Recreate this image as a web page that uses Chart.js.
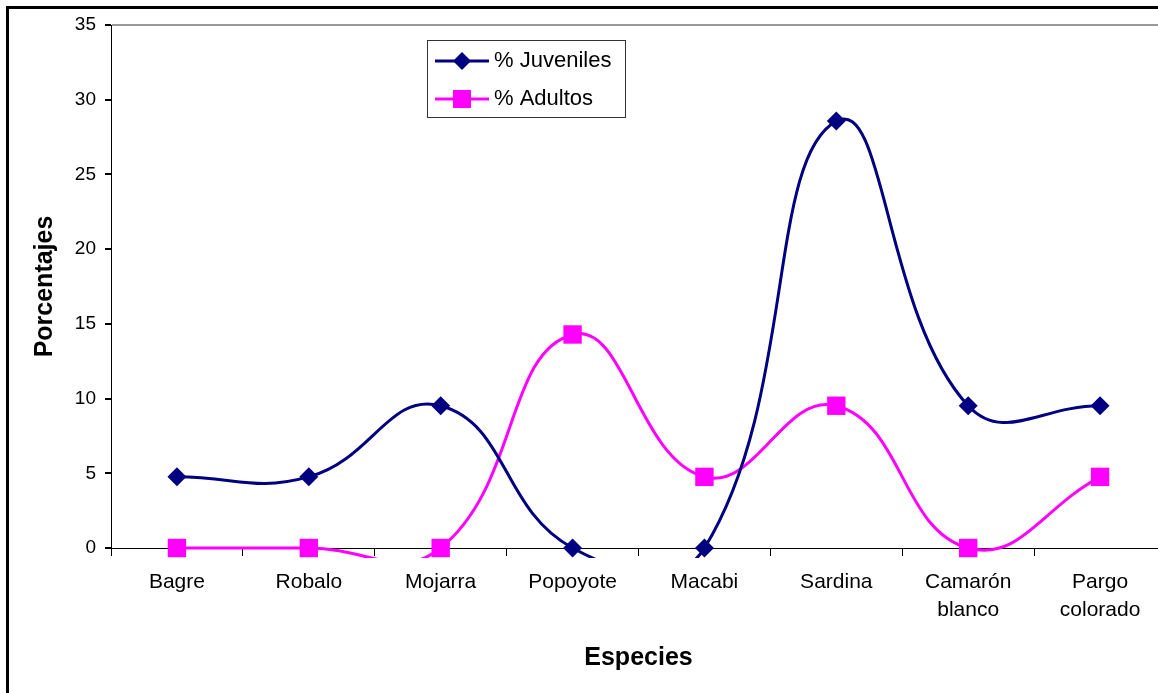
<!DOCTYPE html>
<html>
<head>
<meta charset="utf-8">
<title>Juveniles y adultos por especie</title>
<script src="https://cdn.jsdelivr.net/npm/chart.js@4/dist/chart.umd.min.js"></script>
<style>
  html, body { margin: 0; padding: 0; background: #fff; overflow: hidden; }
  canvas { display: block; }
</style>
</head>
<body>
<canvas id="chart" width="1166" height="693"></canvas>
<script>
const especies = ['Bagre', 'Robalo', 'Mojarra', 'Popoyote', 'Macabi', 'Sardina', ['Camarón', 'blanco'], ['Pargo', 'colorado']];
const juveniles = [4.76, 4.76, 9.52, 0, 0, 28.57, 9.52, 9.52];
const adultos = [0, 0, 0, 14.29, 4.76, 9.52, 0, 4.76];
const yTicks = [0, 5, 10, 15, 20, 25, 30, 35];

const FONT = "'Liberation Sans', Arial, sans-serif";

// outer frame of the chart, only its left and top edges fall inside the page
const framePlugin = {
  id: 'frame',
  beforeDraw(chart) {
    const ctx = chart.ctx;
    ctx.save();
    ctx.fillStyle = '#fff';
    ctx.fillRect(0, 0, chart.width, chart.height);
    ctx.strokeStyle = '#000';
    ctx.lineWidth = 3;
    ctx.strokeRect(7.5, 7.5, chart.width + 40, chart.height + 40);
    ctx.restore();
  }
};

// boxed legend sitting inside the plot area
const boxLegend = {
  id: 'boxLegend',
  afterDraw(chart) {
    const ctx = chart.ctx;
    const x = 427, y = 40, w = 198, h = 77;
    ctx.save();
    ctx.fillStyle = '#fff';
    ctx.fillRect(x, y, w, h);
    ctx.strokeStyle = '#333';
    ctx.lineWidth = 1;
    ctx.strokeRect(x + 0.5, y + 0.5, w, h);
    chart.data.datasets.forEach((ds, i) => {
      const cy = 61 + i * 38;
      ctx.strokeStyle = ds.borderColor;
      ctx.lineWidth = 3;
      ctx.beginPath();
      ctx.moveTo(435, cy);
      ctx.lineTo(489, cy);
      ctx.stroke();
      ctx.fillStyle = ds.backgroundColor;
      ctx.beginPath();
      if (ds.pointStyle === 'rectRot') {
        ctx.moveTo(462, cy - 9);
        ctx.lineTo(471, cy);
        ctx.lineTo(462, cy + 9);
        ctx.lineTo(453, cy);
        ctx.closePath();
      } else {
        ctx.rect(453, cy - 9, 18, 18);
      }
      ctx.fill();
      ctx.fillStyle = '#000';
      ctx.font = '22px ' + FONT;
      ctx.textBaseline = 'middle';
      ctx.textAlign = 'left';
      ctx.fillText(ds.label, 494, cy);
    });
    ctx.restore();
  }
};

new Chart(document.getElementById('chart'), {
  type: 'line',
  data: {
    labels: especies,
    datasets: [
      {
        label: '% Juveniles',
        data: juveniles,
        borderColor: '#000080',
        backgroundColor: '#000080',
        borderWidth: 3,
        pointStyle: 'rectRot',
        pointRadius: 9.5,
        pointBorderWidth: 0,
        tension: 0.45,
        clip: { left: 10, top: 10, right: 10, bottom: 10 }
      },
      {
        label: '% Adultos',
        data: adultos,
        borderColor: '#FF00FF',
        backgroundColor: '#FF00FF',
        borderWidth: 3,
        pointStyle: 'rect',
        pointRadius: 13,
        pointBorderWidth: 0,
        tension: 0.45,
        clip: { left: 10, top: 10, right: 10, bottom: 10 }
      }
    ]
  },
  options: {
    responsive: false,
    animation: false,
    layout: { autoPadding: false, padding: { top: 25, left: 0, right: 0, bottom: 0 } },
    elements: { line: { capBezierPoints: false } },
    plugins: {
      legend: { display: false },
      tooltip: { enabled: false }
    },
    scales: {
      x: {
        type: 'category',
        offset: true,
        afterFit(scale) {
          scale.height = 145;
          scale.paddingLeft = 0;
          scale.paddingRight = 0;
        },
        grid: {
          offset: true,
          drawOnChartArea: false,
          tickColor: '#000',
          tickLength: 8
        },
        border: { color: '#000', width: 1 },
        ticks: {
          color: '#000',
          padding: 12,
          maxRotation: 0,
          autoSkip: false,
          font: { family: FONT, size: 21, lineHeight: 1.35 }
        },
        title: {
          display: true,
          text: 'Especies',
          color: '#000',
          font: { family: FONT, size: 25, weight: 'bold' },
          padding: { top: 0, bottom: 20 }
        }
      },
      y: {
        min: 0,
        max: 35,
        afterFit(scale) {
          scale.width = 111;
          scale.paddingTop = 0;
          scale.paddingBottom = 0;
        },
        afterBuildTicks(scale) { scale.ticks = yTicks.map(v => ({ value: v })); },
        grid: {
          color: ctx => (ctx.tick && ctx.tick.value === 35 ? '#999' : 'rgba(0,0,0,0)'),
          lineWidth: 2,
          tickColor: '#000',
          tickLength: 6
        },
        border: { color: '#000', width: 1 },
        ticks: {
          color: '#000',
          padding: 9,
          font: { family: FONT, size: 19 }
        },
        title: {
          display: true,
          text: 'Porcentajes',
          color: '#000',
          font: { family: FONT, size: 25, weight: 'bold' },
          padding: { top: 30, bottom: 0 }
        }
      }
    }
  },
  plugins: [framePlugin, boxLegend]
});
</script>
</body>
</html>
